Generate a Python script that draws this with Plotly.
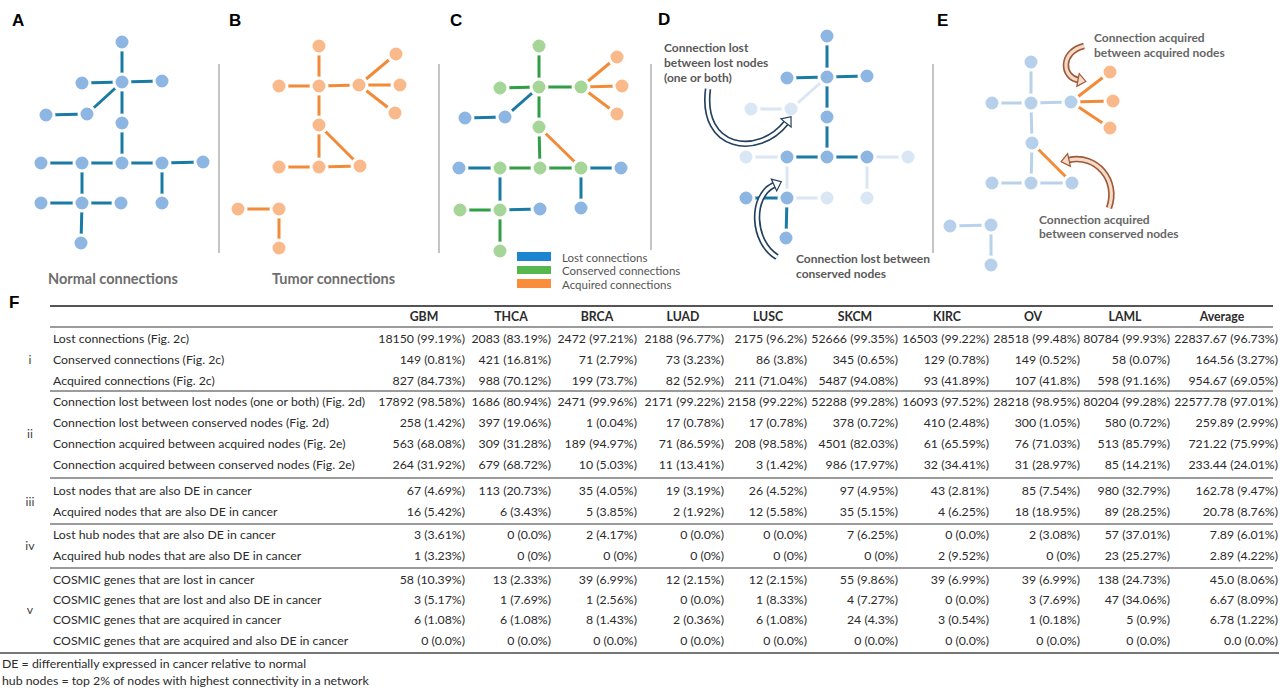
import numpy as np
import plotly.graph_objects as go

W, H = 1285, 688

# ---------------- network diagrams (node layout, in figure pixels) ----------------
A_x = [122, 122, 82, 162, 87, 46, 122, 41, 82, 122, 162, 203, 41, 82, 121, 162, 81]
A_y = [42, 82, 83, 81, 114, 115, 123, 163, 163, 163, 163, 162, 203, 203, 203, 203, 243]
A_kind = ["blue"] * 17
A_edges = [(0, 1, "blue"), (2, 1, "blue"), (1, 3, "blue"), (1, 4, "blue"), (5, 4, "blue"),
           (1, 6, "blue"), (6, 9, "blue"), (7, 8, "blue"), (8, 9, "blue"), (9, 10, "blue"),
           (10, 11, "blue"), (10, 15, "blue"), (8, 13, "blue"), (12, 13, "blue"),
           (13, 14, "blue"), (13, 16, "blue")]

B_x = [319, 279, 319, 359, 396, 400, 395, 319, 279, 319, 360, 238, 279, 279]
B_y = [46, 86, 86, 85, 54, 85, 113, 125, 167, 167, 166, 209, 209, 248]
B_kind = ["orange"] * 14
B_edges = [(0, 2, "orange"), (1, 2, "orange"), (2, 3, "orange"), (3, 4, "orange"),
           (3, 5, "orange"), (3, 6, "orange"), (2, 7, "orange"), (7, 9, "orange"),
           (7, 10, "orange"), (8, 9, "orange"), (9, 10, "orange"), (11, 12, "orange"),
           (12, 13, "orange")]

C_x = [539, 500, 539, 581, 617, 622, 617, 465, 505, 539, 459, 500, 540, 581, 621, 460, 500, 540, 581, 500]
C_y = [46, 88, 87, 87, 57, 86, 114, 118, 117, 127, 168, 168, 168, 168, 168, 210, 210, 209, 208, 251]
C_kind = ["green", "green", "green", "green", "orange", "orange", "orange", "blue", "blue", "green",
          "blue", "green", "green", "green", "blue", "green", "green", "blue", "blue", "green"]
C_edges = [(0, 2, "green"), (1, 2, "green"), (2, 3, "green"), (2, 9, "green"), (9, 12, "green"),
           (11, 12, "green"), (12, 13, "green"), (15, 16, "green"), (16, 19, "green"),
           (2, 8, "blue"), (7, 8, "blue"), (10, 11, "blue"), (13, 14, "blue"), (11, 16, "blue"),
           (16, 17, "blue"), (13, 18, "blue"),
           (3, 4, "orange"), (3, 5, "orange"), (3, 6, "orange"), (9, 13, "orange")]

D_x = [827, 787, 827, 867, 751, 791, 827, 746, 787, 827, 867, 908, 746, 787, 827, 867, 786]
D_y = [36, 78, 77, 76, 109, 109, 117, 157, 157, 157, 157, 157, 198, 198, 198, 198, 238]
D_kind = ["blue", "blue", "blue", "blue", "faded", "faded", "blue", "faded", "blue", "blue",
          "blue", "faded", "blue", "blue", "faded", "faded", "blue"]
D_edges = [(0, 2, "blue"), (1, 2, "blue"), (2, 3, "blue"), (2, 6, "blue"), (6, 9, "blue"),
           (8, 9, "blue"), (9, 10, "blue"), (12, 13, "blue"), (13, 16, "blue"),
           (2, 5, "faded"), (4, 5, "faded"), (7, 8, "faded"), (10, 11, "faded"),
           (8, 13, "faded"), (13, 14, "faded"), (10, 15, "faded")]

E_x = [1031, 992, 1031, 1071, 1110, 1113, 1110, 1032, 992, 1031, 1072, 950, 991, 991]
E_y = [62, 103, 103, 102, 72, 101, 128, 143, 183, 183, 183, 226, 225, 265]
E_kind = ["pale", "pale", "pale", "pale", "orange", "orange", "orange", "pale", "pale", "pale",
          "pale", "pale", "pale", "pale"]
E_edges = [(0, 2, "pale"), (1, 2, "pale"), (2, 3, "pale"), (2, 7, "pale"), (7, 9, "pale"),
           (8, 9, "pale"), (9, 10, "pale"), (11, 12, "pale"), (12, 13, "pale"),
           (3, 4, "orange"), (3, 5, "orange"), (3, 6, "orange"), (7, 10, "orange")]

NODE_COL = {"blue": "#8db7e2", "green": "#a6d598", "orange": "#f9b98b",
            "faded": "#d9e6f4", "pale": "#b6cfea"}
EDGE_COL = {"blue": "#197ba3", "green": "#2f9e44", "orange": "#f28b37",
            "faded": "#dae6f4", "pale": "#b9d2eb"}

# ---------------- table data ----------------
columns = ["GBM", "THCA", "BRCA", "LUAD", "LUSC", "SKCM", "KIRC", "OV", "LAML", "Average"]
row_labels = [
    "Lost connections (Fig. 2c)",
    "Conserved connections (Fig. 2c)",
    "Acquired connections (Fig. 2c)",
    "Connection lost between lost nodes (one or both) (Fig. 2d)",
    "Connection lost between conserved nodes (Fig. 2d)",
    "Connection acquired between acquired nodes (Fig. 2e)",
    "Connection acquired between conserved nodes (Fig. 2e)",
    "Lost nodes that are also DE in cancer",
    "Acquired nodes that are also DE in cancer",
    "Lost hub nodes that are also DE in cancer",
    "Acquired hub nodes that are also DE in cancer",
    "COSMIC genes that are lost in cancer",
    "COSMIC genes that are lost and also DE in cancer",
    "COSMIC genes that are acquired in cancer",
    "COSMIC genes that are acquired and also DE in cancer",
]
group_labels = ["i", "ii", "iii", "iv", "v"]

lost_conn = ["18150 (99.19%)", "2083 (83.19%)", "2472 (97.21%)", "2188 (96.77%)", "2175 (96.2%)",
             "52666 (99.35%)", "16503 (99.22%)", "28518 (99.48%)", "80784 (99.93%)", "22837.67 (96.73%)"]
cons_conn = ["149 (0.81%)", "421 (16.81%)", "71 (2.79%)", "73 (3.23%)", "86 (3.8%)",
             "345 (0.65%)", "129 (0.78%)", "149 (0.52%)", "58 (0.07%)", "164.56 (3.27%)"]
acq_conn = ["827 (84.73%)", "988 (70.12%)", "199 (73.7%)", "82 (52.9%)", "211 (71.04%)",
            "5487 (94.08%)", "93 (41.89%)", "107 (41.8%)", "598 (91.16%)", "954.67 (69.05%)"]
lost_lost = ["17892 (98.58%)", "1686 (80.94%)", "2471 (99.96%)", "2171 (99.22%)", "2158 (99.22%)",
             "52288 (99.28%)", "16093 (97.52%)", "28218 (98.95%)", "80204 (99.28%)", "22577.78 (97.01%)"]
lost_cons = ["258 (1.42%)", "397 (19.06%)", "1 (0.04%)", "17 (0.78%)", "17 (0.78%)",
             "378 (0.72%)", "410 (2.48%)", "300 (1.05%)", "580 (0.72%)", "259.89 (2.99%)"]
acq_acq = ["563 (68.08%)", "309 (31.28%)", "189 (94.97%)", "71 (86.59%)", "208 (98.58%)",
           "4501 (82.03%)", "61 (65.59%)", "76 (71.03%)", "513 (85.79%)", "721.22 (75.99%)"]
acq_cons = ["264 (31.92%)", "679 (68.72%)", "10 (5.03%)", "11 (13.41%)", "3 (1.42%)",
            "986 (17.97%)", "32 (34.41%)", "31 (28.97%)", "85 (14.21%)", "233.44 (24.01%)"]
lost_de = ["67 (4.69%)", "113 (20.73%)", "35 (4.05%)", "19 (3.19%)", "26 (4.52%)",
           "97 (4.95%)", "43 (2.81%)", "85 (7.54%)", "980 (32.79%)", "162.78 (9.47%)"]
acq_de = ["16 (5.42%)", "6 (3.43%)", "5 (3.85%)", "2 (1.92%)", "12 (5.58%)",
          "35 (5.15%)", "4 (6.25%)", "18 (18.95%)", "89 (28.25%)", "20.78 (8.76%)"]
lost_hub = ["3 (3.61%)", "0 (0.0%)", "2 (4.17%)", "0 (0.0%)", "0 (0.0%)",
            "7 (6.25%)", "0 (0.0%)", "2 (3.08%)", "57 (37.01%)", "7.89 (6.01%)"]
acq_hub = ["1 (3.23%)", "0 (0%)", "0 (0%)", "0 (0%)", "0 (0%)",
           "0 (0%)", "2 (9.52%)", "0 (0%)", "23 (25.27%)", "2.89 (4.22%)"]
cosmic_lost = ["58 (10.39%)", "13 (2.33%)", "39 (6.99%)", "12 (2.15%)", "12 (2.15%)",
               "55 (9.86%)", "39 (6.99%)", "39 (6.99%)", "138 (24.73%)", "45.0 (8.06%)"]
cosmic_lost_de = ["3 (5.17%)", "1 (7.69%)", "1 (2.56%)", "0 (0.0%)", "1 (8.33%)",
                  "4 (7.27%)", "0 (0.0%)", "3 (7.69%)", "47 (34.06%)", "6.67 (8.09%)"]
cosmic_acq = ["6 (1.08%)", "6 (1.08%)", "8 (1.43%)", "2 (0.36%)", "6 (1.08%)",
              "24 (4.3%)", "3 (0.54%)", "1 (0.18%)", "5 (0.9%)", "6.78 (1.22%)"]
cosmic_acq_de = ["0 (0.0%)", "0 (0.0%)", "0 (0.0%)", "0 (0.0%)", "0 (0.0%)",
                 "0 (0.0%)", "0 (0.0%)", "0 (0.0%)", "0 (0.0%)", "0.0 (0.0%)"]
table_rows = [lost_conn, cons_conn, acq_conn, lost_lost, lost_cons, acq_acq, acq_cons,
              lost_de, acq_de, lost_hub, acq_hub, cosmic_lost, cosmic_lost_de, cosmic_acq, cosmic_acq_de]
footnotes = ["DE = differentially expressed in cancer relative to normal",
             "hub nodes = top 2% of nodes with highest connectivity in a network"]

# ---------------- layout geometry ----------------
row_y = [340, 361, 382, 403, 424, 445, 466, 492, 513, 536, 557, 581, 601, 621, 642]
group_y = [361, 435, 503, 547, 611]
col_right = [465, 551, 637, 724, 807, 898, 989, 1080, 1170, 1278]
col_center = [424, 511, 597, 683, 768, 855, 947, 1033, 1125, 1222]
header_y = 318
label_x = 53
group_x = 30
TXT = "#2b2b2b"
FONT = "Lato"
TSIZE = 12.3

fig = go.Figure()

# ---- networks: edges then nodes ----
panels = [(A_x, A_y, A_kind, A_edges), (B_x, B_y, B_kind, B_edges), (C_x, C_y, C_kind, C_edges),
          (D_x, D_y, D_kind, D_edges), (E_x, E_y, E_kind, E_edges)]
for xs, ys, kinds, edges in panels:
    for k in EDGE_COL:
        ex, ey = [], []
        for i, j, kk in edges:
            if kk == k:
                ex += [xs[i], xs[j], None]
                ey += [ys[i], ys[j], None]
        if ex:
            fig.add_trace(go.Scatter(x=ex, y=ey, mode="lines",
                                     line=dict(color=EDGE_COL[k], width=3),
                                     hoverinfo="skip", showlegend=False))
for xs, ys, kinds, edges in panels:
    for k in NODE_COL:
        nx = [x for x, kk in zip(xs, kinds) if kk == k]
        ny = [y for y, kk in zip(ys, kinds) if kk == k]
        if nx:
            fig.add_trace(go.Scatter(x=nx, y=ny, mode="markers",
                                     marker=dict(size=16, color=NODE_COL[k],
                                                 line=dict(color="white", width=3)),
                                     hoverinfo="skip", showlegend=False))

# ---- table text ----
fig.add_trace(go.Scatter(x=[label_x] * len(row_labels), y=row_y, text=row_labels, mode="text",
                         textposition="middle right",
                         textfont=dict(family=FONT, size=TSIZE, color=TXT),
                         hoverinfo="skip", showlegend=False))
fig.add_trace(go.Scatter(x=[group_x] * len(group_labels), y=group_y, text=group_labels, mode="text",
                         textposition="middle center",
                         textfont=dict(family=FONT, size=TSIZE, color="#444444"),
                         hoverinfo="skip", showlegend=False))
fig.add_trace(go.Scatter(x=col_center, y=[header_y] * len(columns), text=columns, mode="text",
                         textposition="middle center",
                         textfont=dict(family=FONT, size=TSIZE, color=TXT, weight="bold"),
                         hoverinfo="skip", showlegend=False))
for c in range(len(columns)):
    fig.add_trace(go.Scatter(x=[col_right[c]] * len(table_rows), y=row_y,
                             text=[r[c] for r in table_rows], mode="text",
                             textposition="middle left",
                             textfont=dict(family=FONT, size=TSIZE, color=TXT),
                             hoverinfo="skip", showlegend=False))
fig.add_trace(go.Scatter(x=[2, 2], y=[665, 682], text=footnotes, mode="text",
                         textposition="middle right",
                         textfont=dict(family=FONT, size=TSIZE, color=TXT),
                         hoverinfo="skip", showlegend=False))

shapes = []
# table rules
for y, x0, x1, w, c in [(306, 50, 1273, 2, "#555555"), (327, 50, 1273, 1.6, "#7a7a7a"),
                        (391, 50, 1273, 1.6, "#7a7a7a"), (478, 50, 1273, 1.6, "#7a7a7a"),
                        (524, 50, 1273, 1.6, "#7a7a7a"), (568, 50, 1273, 1.6, "#7a7a7a"),
                        (653, 0, 1279, 2, "#777777")]:
    shapes.append(dict(type="line", xref="x", yref="y", x0=x0, x1=x1, y0=y, y1=y,
                       line=dict(color=c, width=w)))
# panel dividers
for x, y1 in [(219, 253), (439, 253), (651, 250), (933, 253)]:
    shapes.append(dict(type="line", xref="x", yref="y", x0=x, x1=x, y0=64, y1=y1,
                       line=dict(color="#c4c4c4", width=2)))
# legend swatches in C
for (y0, y1), c in zip([(252, 261), (266, 274), (279, 288)], ["#1d85d0", "#57b74f", "#f98d3c"]):
    shapes.append(dict(type="rect", xref="x", yref="y", x0=517, x1=551, y0=y0, y1=y1,
                       fillcolor=c, line=dict(width=0)))


def hollow_arrow(pts, outline, fill, w_out=6.5, w_in=3.2, head_len=8, head_w=6.5):
    p = [np.array(q, dtype=float) for q in pts]
    d = p[3] - p[2]
    d = d / np.linalg.norm(d)
    n = np.array([-d[1], d[0]])
    end = p[3]
    path = "M {},{} C {},{} {},{} {},{}".format(*p[0], *p[1], *p[2], *end)
    out = [dict(type="path", xref="x", yref="y", path=path, line=dict(color=outline, width=w_out)),
           dict(type="path", xref="x", yref="y", path=path, line=dict(color=fill, width=w_in))]
    tip = end + d * head_len
    b1 = end + n * head_w
    b2 = end - n * head_w
    tri = "M {},{} L {},{} L {},{} Z".format(*tip, *b1, *b2)
    out.append(dict(type="path", xref="x", yref="y", path=tri, fillcolor=fill,
                    line=dict(color=outline, width=1.2)))
    return out


shapes += hollow_arrow([(708, 89), (700, 150), (758, 158), (786, 123)], "#23405f", "#ffffff")
shapes += hollow_arrow([(777, 257), (752, 242), (750, 196), (774, 185)], "#23405f", "#ffffff")
shapes += hollow_arrow([(1084, 46), (1060, 52), (1062, 77), (1078, 80)], "#9c5a3a", "#f6d9c6")
shapes += hollow_arrow([(1109, 208), (1119, 180), (1096, 154), (1069, 160)], "#9c5a3a", "#f6d9c6")

annotations = []


def txt(x, y, s, size=12, color="#595959", weight="bold", xanchor="left", family=FONT):
    annotations.append(dict(x=x, y=y, xref="x", yref="y", text=s, showarrow=False,
                            xanchor=xanchor, yanchor="middle",
                            font=dict(family=family, size=size, color=color, weight=weight)))


for letter, x, y in [("A", 18, 20), ("B", 235, 20), ("C", 456, 20), ("D", 664, 19),
                     ("E", 942, 20), ("F", 14, 302)]:
    txt(x, y, letter, size=17, color="#000000", xanchor="center", family="Liberation Sans")

txt(113, 278, "Normal connections", size=14.5, color="#6e6e6e", xanchor="center")
txt(333, 278, "Tumor connections", size=14.5, color="#6e6e6e", xanchor="center")
for y, s in zip([47, 62, 77], ["Connection lost", "between lost nodes", "(one or both)"]):
    txt(662, y, s)
for y, s in zip([258, 273], ["Connection lost between", "conserved nodes"]):
    txt(794, y, s)
for y, s in zip([37, 52], ["Connection acquired", "between acquired nodes"]):
    txt(1092, y, s, color="#666666")
for y, s in zip([219, 233], ["Connection acquired", "between conserved nodes"]):
    txt(1037, y, s, color="#666666")
for y, s in zip([257, 270, 284], ["Lost connections", "Conserved connections", "Acquired connections"]):
    txt(560, y, s, size=11.5, color="#555555", weight="normal")

fig.update_layout(
    width=W, height=H, margin=dict(l=0, r=0, t=0, b=0, pad=0),
    paper_bgcolor="white", plot_bgcolor="white",
    xaxis=dict(range=[0, W], visible=False, fixedrange=True),
    yaxis=dict(range=[H, 0], visible=False, fixedrange=True),
    shapes=shapes, annotations=annotations, showlegend=False,
)

fig.write_html("out.html", config={"displayModeBar": False, "staticPlot": True},
               post_script="document.body.style.margin='0';document.body.style.overflow='hidden';")
